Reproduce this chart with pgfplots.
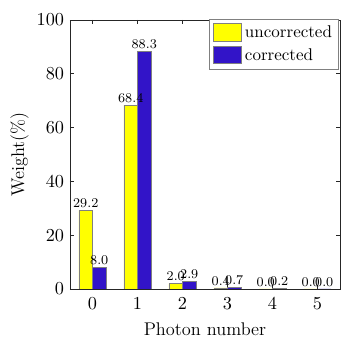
\documentclass[border=0pt]{standalone}
\usepackage{pgfplots}
\pgfplotsset{compat=1.18}
\definecolor{myyellow}{RGB}{255,255,0}
\definecolor{myblue}{RGB}{50,20,200}
\definecolor{axgray}{RGB}{38,38,38}
\begin{document}
\begin{tikzpicture}
\begin{axis}[
  at={(0,0)}, anchor=south west,
  scale only axis, width=162pt, height=161.4pt,
  ybar=0pt, bar width=0.3,
  xmin=-0.5, xmax=5.5, ymin=0, ymax=100,
  xtick={0,1,2,3,4,5}, ytick={0,20,40,60,80,100},
  tick align=inside, major tick length=2.5pt,
  axis line style={axgray, line width=0.5pt},
  tick style={axgray, line width=0.4pt},
  ticklabel style={font=\fontsize{11}{13}\selectfont},
  xticklabel style={yshift=-2pt},
  xlabel={Photon number}, ylabel={Weight(\%)},
  label style={font=\fontsize{11}{13}\selectfont},
  xlabel style={yshift=-1pt},
  ylabel style={yshift=-2pt},
  legend style={at={(0.995,1.003)}, anchor=north east, font=\fontsize{10.2}{12}\selectfont,
    draw=gray, line width=0.5pt, inner xsep=2pt, inner ysep=2pt, row sep=1pt, outer sep=0pt},
  legend cell align=left,
  legend image code/.code={\draw[#1, draw=gray] (-0.05cm,-0.17cm) rectangle (0.55cm,0.2cm);},
  nodes near coords={\pgfmathprintnumber[fixed, fixed zerofill, precision=1]{\pgfplotspointmeta}},
  every node near coord/.append style={font=\fontsize{7.8}{9}\selectfont, inner sep=1pt, yshift=0.5pt},
]
\addplot[fill=myyellow, draw=gray, line width=0.4pt] coordinates {(0,29.2) (1,68.4) (2,2.0) (3,0.4) (4,0.0) (5,0.0)};
\addplot[fill=myblue, draw=gray, line width=0.4pt] coordinates {(0,8.0) (1,88.3) (2,2.9) (3,0.7) (4,0.2) (5,0.0)};
\legend{uncorrected, corrected}
\end{axis}
\pgfresetboundingbox
\path[use as bounding box] (-42pt,-36pt) rectangle (170.4pt,173.4pt);
\end{tikzpicture}
\end{document}
